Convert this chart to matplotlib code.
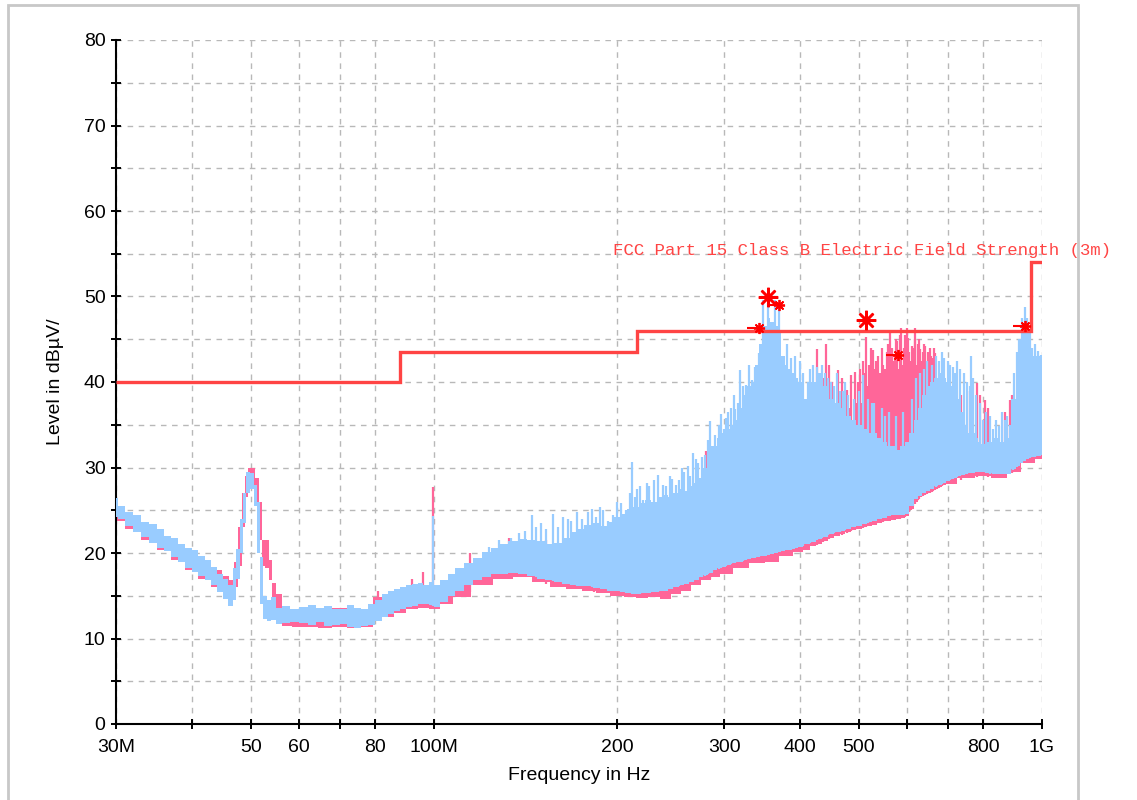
"""
EMI scan: radiated emission 30 MHz - 1 GHz against FCC Part 15 Class B limit
"""

import matplotlib.pyplot as plt
import numpy as np
from matplotlib.patches import Rectangle
from matplotlib.transforms import offset_copy

plt.rcParams['font.family'] = ['Liberation Sans', 'DejaVu Sans']
plt.rcParams['font.size'] = 14

# --- limit line (MHz / dBuV/m) ---
limit_edges = [30, 88, 216, 960, 1000]
limit_levels = [40, 43.5, 46, 54]

# --- blue trace envelope (MHz, low, high) ---
blue_freq = [30, 30.5, 31.5, 32.5, 33.5, 34.5, 35.5, 36.5, 37.5, 38.5,
             39.5, 40.5, 41.5, 42.5, 43.5, 44.5, 45.5, 46.3, 47.0, 47.6,
             48.2, 48.8, 49.5, 50.3, 51.0, 51.5, 52.0, 52.6, 53.5, 54.5,
             55.5, 57, 59, 61, 63, 65, 67, 69, 71, 73,
             75, 77, 79, 81, 83, 85, 87, 89, 91, 93,
             95, 97, 99, 101, 104, 107, 110, 114, 118, 122,
             126, 130, 135, 140, 145, 150, 155, 160, 165, 170,
             175, 180, 185, 190, 195, 200, 205, 210, 215, 220,
             225, 230, 235, 240, 245, 250, 255, 260, 265, 270,
             275, 280, 285, 290, 295, 300, 305, 310, 315, 320,
             325, 330, 335, 340, 345, 350, 355, 360, 365, 370,
             375, 380, 385, 390, 395, 400, 410, 420, 430, 440,
             450, 460, 470, 480, 490, 500, 510, 520, 530, 540,
             550, 560, 570, 580, 590, 600, 610, 620, 630, 640,
             650, 660, 670, 680, 690, 700, 710, 720, 730, 740,
             750, 760, 770, 780, 790, 800, 820, 840, 860, 880,
             900, 915, 925, 935, 945, 955, 965, 975, 990, 1000]
blue_low = [24.2, 24.0, 23.2, 22.5, 21.9, 21.2, 20.6, 20.2, 19.5, 19.0,
            18.3, 17.8, 17.3, 16.8, 16.2, 15.4, 14.6, 13.8, 14.5, 17.0,
            20.0, 23.5, 27.0, 27.5, 25.5, 20.0, 14.0, 12.3, 12.0, 12.2,
            11.7, 11.8, 11.9, 11.8, 11.6, 11.9, 11.5, 11.6, 11.7, 11.4,
            11.2, 11.5, 11.6, 12.0, 12.5, 12.9, 13.2, 13.4, 13.7, 13.8,
            14.0, 14.0, 13.9, 13.7, 14.3, 15.0, 15.5, 16.2, 16.8, 17.2,
            17.5, 17.6, 17.7, 17.6, 17.3, 17.0, 16.8, 16.6, 16.4, 16.2,
            16.1, 16.1, 15.9, 15.8, 15.6, 15.5, 15.4, 15.3, 15.2, 15.3,
            15.3, 15.4, 15.5, 15.6, 15.8, 16.0, 16.2, 16.4, 16.6, 16.9,
            17.2, 17.4, 17.7, 18.0, 18.2, 18.4, 18.6, 18.8, 18.9, 19.0,
            19.2, 19.3, 19.4, 19.5, 19.6, 19.7, 19.8, 19.9, 20.0, 20.1,
            20.2, 20.3, 20.4, 20.5, 20.6, 20.7, 21.0, 21.3, 21.6, 21.9,
            22.2, 22.4, 22.6, 22.8, 23.0, 23.2, 23.4, 23.6, 23.8, 24.0,
            24.1, 24.3, 24.4, 24.5, 24.5, 24.6, 25.5, 26.3, 26.7, 27.0,
            27.3, 27.5, 27.8, 28.0, 28.2, 28.4, 28.6, 28.8, 29.0, 29.1,
            29.2, 29.3, 29.4, 29.5, 29.5, 29.5, 29.3, 29.2, 29.2, 29.2,
            29.8, 30.2, 30.5, 30.8, 31.0, 31.1, 31.2, 31.3, 31.4, 31.5]
blue_high = [26.4, 25.5, 24.8, 24.4, 23.6, 23.4, 22.8, 22.0, 21.8, 21.0,
             20.6, 20.3, 19.6, 19.2, 18.4, 17.6, 17.0, 16.2, 18.3, 20.5,
             24.0, 27.0, 29.5, 29.3, 28.0, 26.0, 19.5, 15.0, 14.5, 14.8,
             13.6, 13.8, 13.5, 13.7, 13.9, 13.6, 13.8, 13.5, 13.4, 13.9,
             13.6, 13.4, 14.0, 14.5, 15.2, 15.6, 15.8, 16.0, 16.2, 16.4,
             16.5, 16.3, 16.6, 16.2, 16.8, 17.5, 18.2, 18.8, 19.4, 20.1,
             20.6, 21.0, 21.4, 21.6, 21.5, 21.4, 21.0, 21.2, 21.8, 22.4,
             22.8, 23.3, 23.5, 23.2, 23.6, 24.2, 24.6, 25.2, 25.4, 25.8,
             26.2, 26.0, 26.5, 26.8, 26.6, 27.0, 27.5, 27.2, 27.8, 28.2,
             28.8, 30.0, 31.5, 32.5, 33.5, 34.0, 34.5, 35.0, 35.5, 37.0,
             38.5, 39.5, 40.0, 42.0, 44.5, 46.5, 47.5, 47.0, 46.5, 46.0,
             43.0, 42.0, 41.5, 41.0, 40.5, 40.0, 38.0, 40.0, 41.0, 39.5,
             38.0, 37.5, 37.0, 36.0, 35.5, 35.0, 34.5, 34.0, 34.0, 33.5,
             33.0, 32.5, 32.5, 32.0, 32.5, 33.0, 34.0, 35.5, 37.0, 38.5,
             39.5, 40.0, 40.5, 41.0, 40.5, 40.0, 39.5, 38.5, 38.0, 36.5,
             35.0, 34.0, 34.0, 33.5, 33.0, 32.8, 33.0, 33.5, 33.0, 33.5,
             38.0, 42.0, 45.0, 46.5, 47.0, 44.0, 42.0, 42.5, 43.0, 42.0]

blue_spike_freq = [99.5, 123, 128, 134, 138, 141, 145, 147, 150, 153,
                   157, 160, 163, 166, 168, 172, 175, 177, 179, 182,
                   185, 187.5, 190, 193.6, 197, 200, 203, 207, 210, 212,
                   214, 216, 218, 221, 224, 226, 230, 234, 238, 241,
                   244, 246, 250, 253, 256, 258, 262, 264, 267, 270,
                   272, 276, 279, 282, 284, 287, 290, 294, 297, 300,
                   302, 305, 308, 311, 313, 316, 319, 322, 326, 330,
                   333, 337, 342, 348, 354, 364, 369, 381, 387, 393,
                   400, 405, 412, 416, 420, 426, 434, 440, 445, 450,
                   455, 460, 465, 470, 475, 480, 490, 500, 508, 518,
                   525, 530, 545, 552, 560, 575, 590, 610, 620, 630,
                   640, 648, 660, 668, 676, 685, 690, 700, 705, 714,
                   720, 724, 733, 745, 752, 760, 764, 770, 780, 790,
                   800, 810, 822, 830, 840, 850, 860, 868, 875, 885,
                   895, 900, 910, 918, 928, 938, 945, 955, 962, 967,
                   972, 980, 985, 995]
blue_spike_top = [24.3, 20.7, 21.5, 21.7, 22.3, 22.6, 24.4, 23.0, 23.5, 22.8,
                  24.6, 23.0, 24.2, 24.0, 23.8, 24.8, 24.0, 23.3, 24.8, 25.2,
                  24.2, 25.4, 25.0, 23.8, 24.5, 26.0, 25.8, 25.0, 27.0, 30.7,
                  26.5, 27.5, 27.8, 26.2, 28.2, 27.8, 28.5, 29.1, 28.0, 27.8,
                  29.0, 28.6, 28.0, 28.5, 30.0, 29.5, 30.2, 29.0, 31.7, 31.0,
                  30.5, 31.2, 31.5, 33.2, 35.4, 32.5, 33.8, 35.0, 36.3, 34.5,
                  35.8, 36.5, 37.0, 38.5, 36.8, 37.5, 41.4, 39.5, 39.6, 42.0,
                  40.2, 41.8, 43.4, 49.6, 49.2, 49.6, 48.5, 44.5, 42.8, 43.0,
                  42.5, 41.0, 40.0, 41.5, 42.0, 41.8, 42.0, 41.0, 40.5, 40.0,
                  39.5, 41.0, 39.0, 39.0, 40.0, 38.5, 38.0, 39.0, 40.8, 38.0,
                  37.5, 37.5, 37.0, 36.0, 36.5, 36.0, 36.5, 38.0, 40.5, 41.0,
                  41.5, 42.5, 42.0, 43.0, 42.5, 43.5, 42.8, 42.5, 42.0, 41.8,
                  41.0, 42.4, 41.5, 41.0, 40.0, 39.5, 43.0, 40.5, 38.5, 37.5,
                  35.5, 36.5, 36.0, 34.5, 35.5, 34.8, 36.5, 35.5, 36.0, 35.0,
                  37.0, 41.0, 43.5, 45.0, 47.5, 48.8, 47.5, 46.0, 44.0, 43.0,
                  44.5, 43.0, 43.6, 43.2]

# --- pink trace envelope (MHz, low, high) ---
pink_freq = [30, 32, 34, 36, 38, 40, 42, 44, 45.5, 46.5,
             47.3, 48.0, 48.6, 49.2, 49.8, 50.5, 51.2, 51.8, 52.4, 53.2,
             53.9, 54.6, 55.5, 57, 60, 63, 66, 70, 74, 78,
             80.5, 84, 88, 92, 96, 100, 105, 110, 120, 130,
             140, 150, 160, 170, 180, 190, 200, 210, 220, 230,
             240, 250, 260, 270, 280, 290, 300, 320, 340, 360,
             380, 400, 410, 420, 430, 440, 450, 460, 470, 480,
             490, 500, 510, 520, 530, 540, 550, 560, 570, 580,
             590, 600, 610, 620, 630, 640, 650, 660, 670, 680,
             690, 700, 750, 800, 850, 900, 950, 1000]
pink_low = [23.8, 22.8, 21.5, 20.3, 19.2, 18.0, 17.0, 16.0, 15.4, 15.0,
            16.0, 18.5, 23.0, 26.5, 28.0, 28.0, 25.5, 21.5, 18.5, 18.3,
            16.8, 14.5, 12.5, 11.5, 11.3, 11.4, 11.2, 11.3, 11.2, 11.3,
            12.0, 12.5, 13.0, 13.4, 13.6, 13.5, 14.0, 14.8, 16.2, 17.0,
            17.2, 16.6, 16.0, 15.8, 15.5, 15.3, 15.0, 14.8, 14.7, 14.8,
            14.6, 15.2, 15.6, 16.2, 16.8, 17.2, 17.6, 18.2, 18.8, 19.0,
            19.6, 20.1, 20.4, 20.8, 21.0, 21.4, 21.8, 22.0, 22.2, 22.4,
            22.7, 22.8, 23.0, 23.2, 23.3, 23.5, 23.7, 23.8, 23.9, 24.0,
            24.1, 24.3, 25.2, 26.0, 26.5, 26.8, 27.0, 27.2, 27.5, 27.7,
            27.9, 28.1, 28.8, 29.0, 28.8, 29.5, 30.5, 31.0]
pink_high = [25.0, 24.0, 22.8, 21.8, 20.8, 20.0, 19.0, 18.0, 17.3, 16.8,
             19.0, 23.0, 27.0, 29.0, 30.0, 30.0, 28.8, 26.0, 21.5, 21.5,
             19.2, 16.5, 15.2, 13.5, 13.4, 13.6, 13.5, 13.6, 13.4, 13.5,
             14.8, 15.0, 15.4, 15.8, 16.0, 15.8, 16.2, 17.0, 18.5, 19.5,
             20.0, 19.5, 19.0, 19.5, 20.0, 20.5, 21.0, 21.5, 22.0, 22.5,
             23.0, 23.5, 24.0, 24.5, 25.0, 26.0, 27.0, 29.0, 32.0, 34.0,
             33.0, 33.0, 34.0, 37.0, 36.0, 38.0, 35.0, 37.0, 36.0, 37.0,
             35.5, 37.5, 37.5, 39.5, 39.0, 40.0, 41.0, 40.5, 41.5, 41.5,
             40.0, 41.5, 41.0, 42.0, 41.5, 42.0, 41.0, 40.0, 37.5, 36.0,
             33.0, 32.0, 31.0, 30.5, 30.5, 31.0, 32.0, 32.5]

pink_spike_freq = [81, 92, 96, 99.5, 114.6, 133, 153, 183.6, 280, 284.6,
                   323, 427, 432, 436, 441, 447, 452, 461, 468, 477,
                   485, 493, 498, 502, 507, 512, 514, 520, 523, 527,
                   530, 534, 538, 541, 545, 548, 551, 555, 558, 562,
                   566, 569, 572, 575, 578, 583, 587, 590, 593, 596,
                   600, 603, 605, 608, 610, 614, 617, 619, 622, 624,
                   627, 630, 633, 636, 639, 642, 646, 650, 653, 656,
                   659, 661, 664, 667, 671, 674, 678, 684, 690, 696,
                   710, 735, 760, 781, 792, 806, 815, 870, 886, 893, 900]
pink_spike_top = [15.6, 17.0, 17.8, 27.7, 20.0, 21.7, 21.5, 23.1, 31.9, 29.9,
                  34.8, 43.9, 41.0, 40.5, 44.5, 42.0, 40.0, 41.4, 40.5, 39.1,
                  40.8, 41.2, 40.0, 41.5, 42.4, 41.0, 45.3, 42.0, 44.0, 43.7,
                  41.5, 42.5, 43.0, 41.0, 44.0, 42.0, 41.5, 43.5, 44.5, 46.1,
                  44.0, 42.5, 43.0, 45.0, 44.8, 45.5, 46.3, 42.0, 44.0, 45.5,
                  46.3, 45.2, 43.5, 42.5, 44.2, 44.0, 45.0, 46.3, 42.0, 44.5,
                  45.0, 43.9, 42.5, 43.5, 44.5, 44.2, 42.0, 43.5, 44.0, 43.0,
                  41.5, 42.8, 44.0, 43.4, 40.0, 38.7, 39.0, 40.5, 39.5, 38.3,
                  39.5, 38.5, 39.0, 39.9, 38.5, 37.9, 37.0, 36.5, 37.9, 38.5, 37.1]

# --- final / peak markers ---
big_mark_freq = [354, 514]
big_mark_level = [49.9, 47.3]
small_mark_freq = [343, 370, 580, 938]
small_mark_level = [46.3, 49.0, 43.2, 46.5]

BLUE = '#99ccff'
PINK = '#ff6699'
RED = '#ff4444'

fig = plt.figure(figsize=(11.37, 8), dpi=100)
ax = fig.add_axes([0.102, 0.095, 0.8145, 0.855])

# pink trace (drawn first, below)
ax.fill_between(pink_freq, pink_low, pink_high, step='mid', color=PINK, lw=0, zorder=2)
p_bot = np.interp(np.log10(pink_spike_freq), np.log10(pink_freq), pink_low)
ax.vlines(pink_spike_freq, p_bot, pink_spike_top, color=PINK, lw=1.6, zorder=2)

# blue trace on top
ax.fill_between(blue_freq, blue_low, blue_high, step='mid', color=BLUE, lw=0, zorder=3)
b_bot = np.interp(np.log10(blue_spike_freq), np.log10(blue_freq), blue_low)
ax.vlines(blue_spike_freq, b_bot, blue_spike_top, color=BLUE, lw=1.6, zorder=3)

# limit line
ax.stairs(limit_levels, limit_edges, baseline=None, color=RED, lw=2.4, zorder=4)
ax.text(197, 54.8, 'FCC Part 15 Class B Electric Field Strength (3m)',
        color=RED, fontsize=12.5, family=['Liberation Mono', 'DejaVu Sans Mono'],
        va='baseline', ha='left', clip_on=False, zorder=5)

# markers
ax.plot(big_mark_freq, big_mark_level, ls='none', marker=(8, 2, 0), ms=14,
        mew=1.8, color='red', zorder=6)
ax.plot(big_mark_freq, big_mark_level, ls='none', marker='o', ms=5,
        color='red', zorder=6)
ax.plot(small_mark_freq, small_mark_level, ls='none', marker=(8, 2, 0), ms=8,
        mew=1.3, color='red', zorder=6)
left_shift = offset_copy(ax.transData, fig=fig, x=-6, y=0, units='dots')
ax.plot(small_mark_freq, small_mark_level, ls='none', marker='_', ms=9,
        mew=1.5, color='red', transform=left_shift, zorder=6)

# axes
ax.set_xscale('log')
ax.set_xlim(30, 1000)
ax.set_ylim(0, 80)
xticks = [30, 40, 50, 60, 70, 80, 100, 200, 300, 400, 500, 600, 700, 800, 1000]
xlabels = ['30M', '', '50', '60', '', '80', '100M', '200', '300', '400', '500',
           '', '', '800', '1G']
ax.set_xticks(xticks)
ax.set_xticklabels(xlabels)
ax.xaxis.set_minor_locator(plt.NullLocator())
ax.set_yticks(np.arange(0, 81, 10))
ax.set_yticks(np.arange(5, 80, 10), minor=True)

ax.grid(True, which='both', color='#b8b8b8', ls=(0, (4, 4)), lw=1)
ax.set_axisbelow(True)

for s in ['top', 'right']:
    ax.spines[s].set_visible(False)
for s in ['left', 'bottom']:
    ax.spines[s].set_linewidth(1.5)
ax.tick_params(which='both', direction='inout', length=7, width=1.4)
ax.tick_params(axis='x', which='major', pad=7, labelsize=14)
ax.tick_params(axis='y', which='major', pad=4, labelsize=14)

ax.set_xlabel('Frequency in Hz', fontsize=14, labelpad=8)
ax.set_ylabel('Level in dBµV/', fontsize=14, labelpad=14)

# outer panel frame
fig.patches.append(Rectangle((8 / 1137, -0.02), 1070 / 1137, 1.02 - 5 / 800,
                             transform=fig.transFigure, fill=False,
                             edgecolor='#c8c8c8', lw=2))

fig.savefig('out.png', dpi=100, facecolor='white')
